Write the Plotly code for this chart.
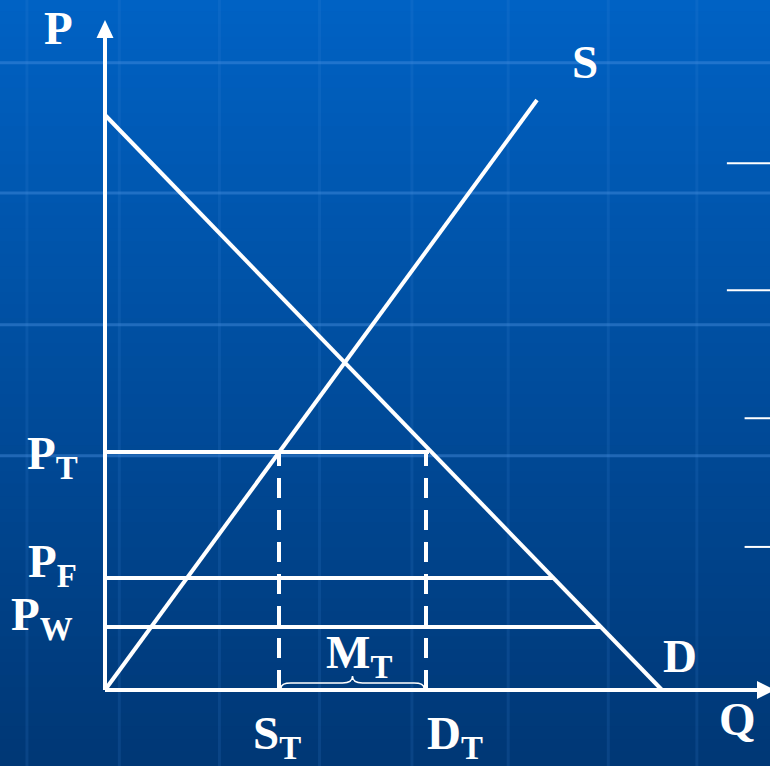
import plotly.graph_objects as go

# price / quantity model (units)
demand_q = [0, 55.7]
demand_p = [57.5, 0]
supply_q = [0, 43.2]
supply_p = [0, 59.0]

price_names = ["P<sub>T</sub>", "P<sub>F</sub>", "P<sub>W</sub>"]
price_levels = [23.8, 11.2, 6.3]
price_line_end = [32.4, 44.8, 49.6]

quota_q = [17.4, 32.1]
quota_names = ["S<sub>T</sub>", "D<sub>T</sub>"]

axis_top = 65.2
axis_right = 65.2

W, H = 770, 766
x_range = [-10.5, 66.5]
y_range = [-7.6, 69.0]

fig = go.Figure()

# blue gradient background
shapes = []
n = 60
top = (0, 98, 196)
bot = (0, 56, 118)
for i in range(n):
    t = i / (n - 1)
    c = tuple(int(top[k] + (bot[k] - top[k]) * t) for k in range(3))
    shapes.append(dict(type="rect", xref="paper", yref="paper",
                       x0=0, x1=1, y0=1 - (i + 1) / n, y1=1 - i / n + 0.002,
                       fillcolor="rgb(%d,%d,%d)" % c, line_width=0, layer="below"))
# faint grid of the slide template
for gy in [0.918, 0.748, 0.576, 0.405]:
    shapes.append(dict(type="line", xref="paper", yref="paper", x0=0, x1=1, y0=gy, y1=gy,
                       line=dict(color="rgba(80,150,230,0.4)", width=3), layer="below"))
for gx in [0.035, 0.155, 0.285, 0.415, 0.535, 0.66, 0.79, 0.905]:
    shapes.append(dict(type="line", xref="paper", yref="paper", x0=gx, x1=gx, y0=0.0, y1=1,
                       line=dict(color="rgba(70,140,220,0.15)", width=3), layer="below"))
# short white ticks at right edge of template
for gy, gx0 in [(0.787, 0.944), (0.621, 0.944), (0.454, 0.967), (0.286, 0.967)]:
    shapes.append(dict(type="line", xref="paper", yref="paper", x0=gx0, x1=1, y0=gy, y1=gy,
                       line=dict(color="white", width=2), layer="below"))

white = dict(color="white", width=4)

# axes
fig.add_trace(go.Scatter(x=[0, 0], y=[0, axis_top], mode="lines", line=white, hoverinfo="skip"))
fig.add_trace(go.Scatter(x=[0, axis_right], y=[0, 0], mode="lines", line=white, hoverinfo="skip"))
shapes.append(dict(type="path", xref="x", yref="y", fillcolor="white", line_width=0,
                   path=f"M -0.85,{axis_top} L 0.85,{axis_top} L 0,{axis_top + 1.8} Z"))
shapes.append(dict(type="path", xref="x", yref="y", fillcolor="white", line_width=0,
                   path=f"M {axis_right},-0.9 L {axis_right},0.9 L {axis_right + 1.8},0 Z"))

# demand and supply
fig.add_trace(go.Scatter(x=demand_q, y=demand_p, mode="lines", line=white, hoverinfo="skip"))
fig.add_trace(go.Scatter(x=supply_q, y=supply_p, mode="lines", line=white, hoverinfo="skip"))

# price lines
for p, qe in zip(price_levels, price_line_end):
    fig.add_trace(go.Scatter(x=[0, qe], y=[p, p], mode="lines", line=white, hoverinfo="skip"))

# quota dashed verticals
for q in quota_q:
    fig.add_trace(go.Scatter(x=[q, q], y=[0, price_levels[0]], mode="lines",
                             line=dict(color="white", width=4, dash="20px,12px"), hoverinfo="skip"))

# brace under M_T
a, b = quota_q[0] + 0.2, quota_q[1] - 0.2
m = (a + b) / 2
y0, y1, y2 = 0.2, 0.7, 1.4
brace = (f"M {a},{y0} Q {a},{y1} {a+1},{y1} L {m-1},{y1} Q {m},{y1} {m},{y2} "
         f"Q {m},{y1} {m+1},{y1} L {b-1},{y1} Q {b},{y1} {b},{y0}")
shapes.append(dict(type="path", path=brace, xref="x", yref="y",
                   line=dict(color="white", width=1.5)))

font_big = dict(family="Liberation Serif", size=47, color="white", weight="bold")
annotations = [
    dict(x=-4.7, y=66.2, text="P"),
    dict(x=48.0, y=62.8, text="S"),
    dict(x=57.5, y=3.4, text="D"),
    dict(x=63.2, y=-2.9, text="Q"),
    dict(x=25.4, y=3.5, text="M<sub>T</sub>"),
]
for name, p, dx, dy in zip(price_names, price_levels, [-5.3, -5.3, -6.3], [-0.4, 1.4, 1.0]):
    annotations.append(dict(x=dx, y=p + dy, text=name))
for name, q, dq in zip(quota_names, quota_q, [-0.2, 2.9]):
    annotations.append(dict(x=q + dq, y=-4.6, text=name))
for an in annotations:
    an.update(showarrow=False, font=font_big, xref="x", yref="y")

fig.update_layout(
    width=W, height=H,
    margin=dict(l=0, r=0, t=0, b=0),
    paper_bgcolor="#00448f",
    plot_bgcolor="rgba(0,0,0,0)",
    showlegend=False,
    shapes=shapes,
    annotations=annotations,
    xaxis=dict(range=x_range, visible=False, fixedrange=True),
    yaxis=dict(range=y_range, visible=False, fixedrange=True),
)

fig.write_html("out.html", config={"displayModeBar": False},
               post_script="document.body.style.margin='0';")
